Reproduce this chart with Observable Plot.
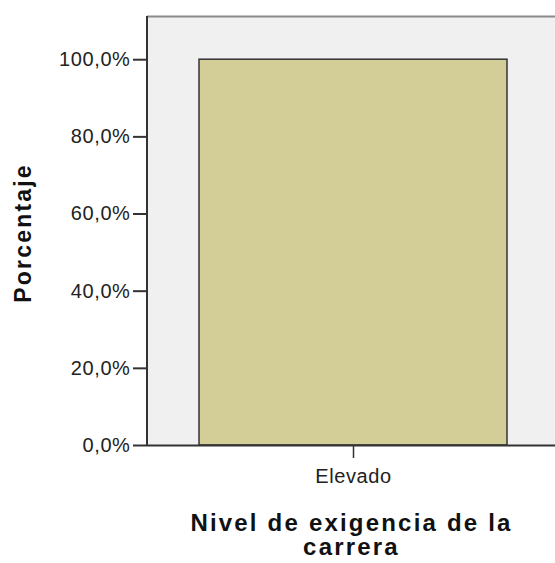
<!DOCTYPE html>
<html>
<head>
<meta charset="utf-8">
<script src="https://cdn.jsdelivr.net/npm/d3@7"></script>
<script src="https://cdn.jsdelivr.net/npm/@observablehq/plot@0.6"></script>
<style>
  html, body { margin: 0; padding: 0; background: #fff; }
  #chart svg { display: block; }
  #chart g[aria-label="text"] text { letter-spacing: 2.2px; }
  #chart g[aria-label$="tick label"] text { letter-spacing: 0.6px; }
</style>
</head>
<body>
<div id="chart"></div>
<script>
// Data
const categories = ["Elevado"];
const percentages = [100];
const yTicks = [0, 20, 40, 60, 80, 100];
const xTitle = "Nivel de exigencia de la\ncarrera";
const yTitle = "Porcentaje";

const data = categories.map((c, i) => ({cat: c, pct: percentages[i]}));
const yMax = 111.2;

// left axis line drawn from the plot's own dimensions
function leftLine(...args) {
  const dims = args.find(a => a && typeof a === "object" && "marginLeft" in a && "height" in a);
  const g = d3.create("svg:line")
    .attr("x1", dims.marginLeft).attr("x2", dims.marginLeft)
    .attr("y1", dims.marginTop).attr("y2", dims.height - dims.marginBottom + 1)
    .attr("stroke", "#333").attr("stroke-width", 2);
  return g.node();
}

const chart = Plot.plot({
  width: 555,
  height: 563,
  marginLeft: 147,
  marginRight: 0,
  marginTop: 16,
  marginBottom: 118,
  style: {fontFamily: "'Liberation Sans', Arial, sans-serif", fontSize: "20px", color: "#222", background: "#fff"},
  x: {domain: categories, range: [147, 559], padding: 0.1444, label: null},
  y: {domain: [0, yMax], label: null},
  marks: [
    Plot.frame({fill: "#f0f0f0"}),
    Plot.ruleY([yMax], {stroke: "#8a8a8a", strokeWidth: 2}),
    Plot.barY(data, {x: "cat", y: "pct", fill: "#d3ce97", stroke: "#333", strokeWidth: 1.5}),
    Plot.ruleY([0], {stroke: "#333", strokeWidth: 2}),
    leftLine,
    Plot.axisY(yTicks, {
      tickFormat: d => d.toFixed(1).replace(".", ",") + "%",
      tickSize: 14, tickPadding: 3, stroke: "#333", strokeWidth: 2, label: null
    }),
    Plot.axisX({tickSize: 13, tickPadding: 10, stroke: "#333", strokeWidth: 1.5, label: null}),
    Plot.text([yTitle], {
      frameAnchor: "left", text: d => d, rotate: -90, dx: -124, dy: 2,
      textAnchor: "middle", lineAnchor: "middle",
      fontSize: 23, fontWeight: "bold", fill: "#111"
    }),
    Plot.text([xTitle], {
      frameAnchor: "bottom", text: d => d, dy: 68, lineAnchor: "top", lineHeight: 1.02,
      textAnchor: "middle",
      fontSize: 24, fontWeight: "bold", fill: "#111"
    })
  ]
});
document.getElementById("chart").appendChild(chart);
</script>
</body>
</html>
